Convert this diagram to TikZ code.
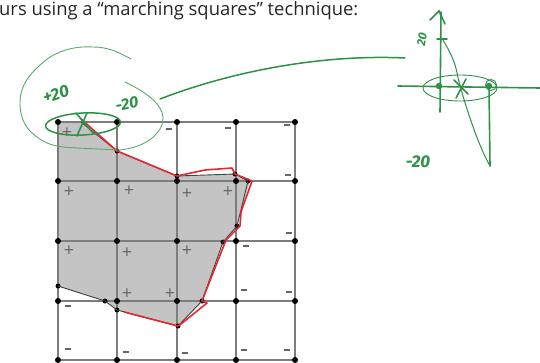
\documentclass[tikz,border=0pt]{standalone}
\usepackage{fontspec}
\usetikzlibrary{shapes.geometric}
\setmainfont{Open Sans}
\newfontfamily\handfont{Fira Sans}
\definecolor{pen}{RGB}{45,145,70}
\definecolor{penlight}{RGB}{90,170,110}
\definecolor{gridc}{RGB}{125,125,125}
\definecolor{fillc}{RGB}{196,196,196}
\definecolor{redc}{RGB}{228,40,50}
\tikzset{
  griddot/.style={circle,fill=black,inner sep=0pt,minimum size=6pt},
  smalldot/.style={circle,fill=black,inner sep=0pt,minimum size=5pt},
  gridline/.style={draw=gridc,line width=1.6pt},
  contour/.style={draw=black!75,line width=0.9pt},
  redline/.style={draw=redc,line width=1.6pt,line join=round},
  sign/.style={inner sep=0pt,text=black!60,font=\fontsize{18}{18}\selectfont},
  minus/.style={inner sep=0pt,draw=none,fill=black!60,minimum width=5.5pt,minimum height=1.3pt},
  penthin/.style={draw=penlight,line width=0.9pt},
  penmid/.style={draw=pen,line width=1.2pt,line cap=round},
  penthick/.style={draw=pen,line width=1.6pt,line cap=round},
  hand/.style={inner sep=0pt,text=pen,font=\handfont\itshape\bfseries\fontsize{17}{17}\selectfont},
  pendot/.style={circle,fill=pen,inner sep=0pt,minimum size=6.5pt}
}
\begin{document}
\begin{tikzpicture}[x=1pt,y=-1pt]
\useasboundingbox (0,0) rectangle (540,362);
\begin{scope}
\clip (0,0) rectangle (540,362);
\node[anchor=base west,inner sep=0pt,text=black!85,font=\fontsize{18.4}{19}\selectfont] (title) at (-1,15) {urs using a “marching squares” technique:};
\end{scope}
% fill
\fill[fillc] (58,122) -- (81,122) -- (117,151) -- (177,176) -- (235,174) -- (250,181) -- (237,226) -- (223,241) -- (202,301) -- (178,326) -- (117,310) -- (105,301) -- (58,286) -- cycle;
% grid
\foreach \x [count=\i] in {58,117,177,236,295}{
  \foreach \y [count=\j] in {122,181,241,301,360}{
    \coordinate (p\i\j) at (\x,\y);
  }
}
\foreach \i in {1,...,5}{
  \draw[gridline] (p\i1) -- (p\i5);
  \draw[gridline] (p1\i) -- (p5\i);
}
\foreach \i in {1,...,5}{\foreach \j in {1,...,5}{
  \node[griddot] (g\i\j) at (p\i\j) {};
}}
% contour vertices
\node[smalldot] (c1) at (58,286) {};
\node[smalldot] (c2) at (105,301) {};
\node[smalldot] (c3) at (117,310) {};
\node[smalldot] (c4) at (178,326) {};
\node[smalldot] (c5) at (202,301) {};
\node[smalldot] (c6) at (223,242) {};
\node[smalldot] (c7) at (237,226) {};
\node[smalldot] (c8) at (248,181) {};
\node[smalldot] (c9) at (235,174) {};
\node[smalldot] (c10) at (117,151) {};
\node[smalldot] (c12) at (177,176) {};
\coordinate (c11) at (81,122);
\draw[contour] (c1.center)--(c2.center)--(c3.center)--(c4.center)--(c5.center)--(c6.center)--(c7.center)--(c8.center)--(c9.center)--(c12.center)--(c10.center)--(c11);
% red
\coordinate (r1) at (81,119);
\coordinate (r3) at (205,170);
\coordinate (r4) at (232,168);
\coordinate (r5) at (252,181);
\coordinate (r6) at (241,212);
\coordinate (r7) at (240,226);
\coordinate (r8) at (226,240);
\coordinate (r9) at (207,303);
\coordinate (r10) at (181,324);
\coordinate (r11) at (124,312);
\draw[redline] (r1)--(c10.center)--(c12.center)--(r3)--(r4)--(c9.center)--(r5)--(r6)--(r7)--(r8)--(c5.center)--(r9)--(r10)--(c4.center)--(r11);
% signs
\foreach \n/\x/\y in {a/67/133,b/69/192,c/129/191,d/187/194,e/228/192,f/69/251,g/127/253,h/187/251,i/127/294,j/170/294}{
  \node[sign] (plus\n) at (\x,\y) {+};
}
\foreach \n/\x/\y in {a/169/129,b/228/128,c/287/125,d/288/175,e/289/233,f/246/246,g/244/290,h/289/292,i/68/306,j/68/349,k/126/352,l/185/353,m/244/350,n/287/350}{
  \node[minus] (minus\n) at (\x,\y) {};
}
% left green
\coordinate (a1) at (131,59);
\coordinate (a2) at (93,47);
\coordinate (a3) at (50,57);
\coordinate (a4) at (20,103);
\coordinate (a5) at (37,137);
\coordinate (a6) at (77,148);
\coordinate (a7) at (120,150);
\coordinate (a8) at (157,133);
\coordinate (a9) at (163,117);
\coordinate (a10) at (125,82);
\draw[penthin] (a1) .. controls (115,50) and (105,47) .. (a2) .. controls (75,46) and (62,50) .. (a3) .. controls (30,72) and (20,85) .. (a4) .. controls (20,120) and (27,130) .. (a5) .. controls (50,147) and (62,147) .. (a6) -- (a7) .. controls (137,148) and (150,142) .. (a8) .. controls (162,128) and (163,122) .. (a9) .. controls (162,105) and (148,93) .. (a10);
\node[draw=pen,line width=1.5pt,ellipse,rotate=3,minimum width=75pt,minimum height=22pt,inner sep=0pt] (lefte) at (83,124) {};
\coordinate (x1) at (76,113);
\coordinate (x2) at (93,133);
\coordinate (x3) at (87,113);
\coordinate (x4) at (77,136);
\draw[penthick] (x1)--(x2) (x3)--(x4);
\node[hand,rotate=18] (lplus) at (56,94) {+20};
\node[hand,rotate=10,font=\handfont\itshape\bfseries\fontsize{16}{16}\selectfont] (lminus) at (127,104) {-20};
% connector
\coordinate (l1) at (160,99);
\coordinate (l2) at (405,58);
\draw[draw=pen,line width=1.5pt,line cap=round] (l1) .. controls (230,72) and (320,54) .. (l2);
% right green
\coordinate (v0) at (441,12);
\coordinate (v1) at (440,112);
\coordinate (h0) at (398,86);
\coordinate (h1) at (540,88);
\draw[penthick] (v0)--(v1);
\coordinate (ah1) at (430,20);
\coordinate (ah2) at (439,11);
\coordinate (ah3) at (445,24);
\draw[penthick] (ah1)--(ah2)--(ah3);
\draw[penthick] (h0)--(h1);
\node[pendot] (d1) at (439,86) {};
\node[pendot] (d2) at (489,86) {};
\node[draw=pen,line width=0.9pt,ellipse,minimum width=74pt,minimum height=26pt,inner sep=0pt] (righte) at (460,88) {};
\node[draw=pen,line width=0.9pt,circle,minimum size=11pt,inner sep=0pt] (dc) at (491,85) {};
\coordinate (x5) at (454,80);
\coordinate (x6) at (468,94);
\coordinate (x7) at (466,79);
\coordinate (x8) at (456,98);
\draw[penthick] (x5)--(x6) (x7)--(x8);
\coordinate (low) at (490,166);
\draw[penthick] (d2) -- (low);
\coordinate (t1) at (437,39);
\coordinate (t2) at (447,39);
\draw[penthick] (t1)--(t2);
\draw[draw=pen,line width=1pt] (443,40) .. controls (452,55) and (456,65) .. (458,78) .. controls (465,105) and (478,145) .. (low);
\node[hand,rotate=80,font=\handfont\itshape\bfseries\fontsize{12}{12}\selectfont] (rplus) at (422,39) {20};
\node[hand] (rminus) at (418,162) {-20};
\end{tikzpicture}
\end{document}
